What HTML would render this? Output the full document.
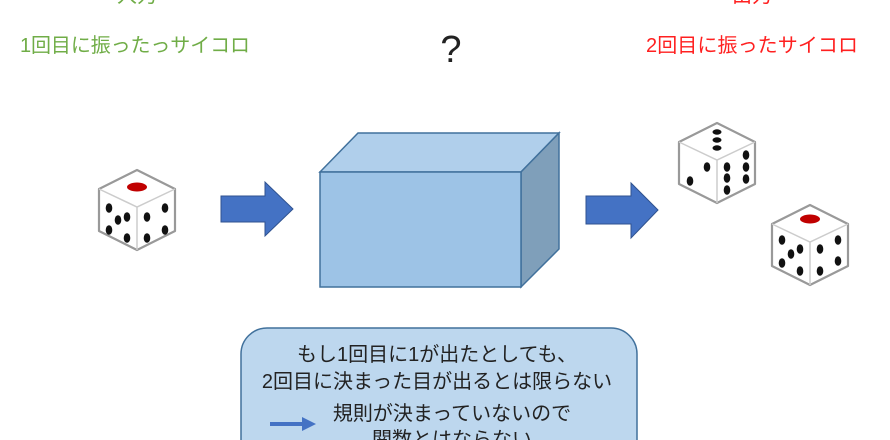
<!DOCTYPE html>
<html><head><meta charset="utf-8"><style>
html,body{margin:0;width:890px;height:440px;overflow:hidden;background:#fff;font-family:"Liberation Sans","Noto Sans CJK JP",sans-serif;}
svg{display:block}
</style></head><body>
<svg width="890" height="440" viewBox="0 0 890 440" xmlns="http://www.w3.org/2000/svg">
<defs>
<clipPath id="c"><rect x="0" y="0" width="890" height="440"/></clipPath>
<g id="die">
  <polygon points="0,-40 38,-21 38,21 0,40 -38,21 -38,-21" fill="#fff" stroke="#999" stroke-width="2.2" stroke-linejoin="round"/>
  <polyline points="-38,-21 0,-3 38,-21" fill="none" stroke="#ccc" stroke-width="1.5"/>
  <line x1="0" y1="-3" x2="0" y2="40" stroke="#ccc" stroke-width="1.5"/>
</g>
</defs>
<g clip-path="url(#c)">
<g font-size="20">
<text x="137" y="2" text-anchor="middle" fill="#70ad47">入力</text>
<text x="20" y="52" fill="#70ad47" textLength="230">1回目に振ったっサイコロ</text>
<text x="752" y="2" text-anchor="middle" fill="#ff2020">出力</text>
<text x="646" y="52" fill="#ff2020" textLength="212">2回目に振ったサイコロ</text>
</g>
<text x="451" y="62" text-anchor="middle" font-size="38" fill="#222">?</text>

<polygon points="320,172 358,133 559,133 521,172" fill="#b0cfeb" stroke="#41719c" stroke-width="1.5"/>
<polygon points="521,172 559,133 559,249 521,287" fill="#7f9fba" stroke="#41719c" stroke-width="1.5"/>
<rect x="320" y="172" width="201" height="115" fill="#9dc3e6" stroke="#41719c" stroke-width="1.5"/>

<polygon points="221,196 265,196 265,182 293,209 265,236 265,222 221,222" fill="#4472c4" stroke="#2f528f" stroke-width="1"/>
<polygon points="586,196 631,196 631,183 658,210 631,238 631,224 586,224" fill="#4472c4" stroke="#2f528f" stroke-width="1"/>

<g transform="translate(137,210)">
<use href="#die"/>
<ellipse cx="0" cy="-23" rx="10" ry="4.5" fill="#c00000"/>
<g fill="#111">
<ellipse cx="-28" cy="-2" rx="3.3" ry="4.8"/><ellipse cx="-10" cy="7" rx="3.3" ry="4.8"/>
<ellipse cx="-19" cy="10" rx="3.3" ry="4.8"/>
<ellipse cx="-28" cy="20" rx="3.3" ry="4.8"/><ellipse cx="-10" cy="28" rx="3.3" ry="4.8"/>
<ellipse cx="10" cy="7" rx="3.3" ry="4.8"/><ellipse cx="28" cy="-2" rx="3.3" ry="4.8"/>
<ellipse cx="10" cy="28" rx="3.3" ry="4.8"/><ellipse cx="28" cy="20" rx="3.3" ry="4.8"/>
</g></g>

<g transform="translate(717,163)">
<use href="#die"/>
<g fill="#111">
<ellipse cx="0" cy="-31" rx="4.5" ry="2.7"/><ellipse cx="0" cy="-23" rx="4.5" ry="2.7"/><ellipse cx="0" cy="-15" rx="4.5" ry="2.7"/>
<ellipse cx="-10" cy="4" rx="3.3" ry="4.8"/><ellipse cx="-27" cy="18" rx="3.3" ry="4.8"/>
<ellipse cx="10" cy="4" rx="3.3" ry="4.8"/><ellipse cx="10" cy="15" rx="3.3" ry="4.8"/><ellipse cx="10" cy="27" rx="3.3" ry="4.8"/>
<ellipse cx="29" cy="-8" rx="3.3" ry="4.8"/><ellipse cx="29" cy="4" rx="3.3" ry="4.8"/><ellipse cx="29" cy="16" rx="3.3" ry="4.8"/>
</g></g>

<g transform="translate(810,245)">
<use href="#die"/>
<ellipse cx="0" cy="-26" rx="10" ry="4.5" fill="#c00000"/>
<g fill="#111">
<ellipse cx="-28" cy="-5" rx="3.3" ry="4.8"/><ellipse cx="-10" cy="4" rx="3.3" ry="4.8"/>
<ellipse cx="-19" cy="9" rx="3.3" ry="4.8"/>
<ellipse cx="-28" cy="18" rx="3.3" ry="4.8"/><ellipse cx="-10" cy="26" rx="3.3" ry="4.8"/>
<ellipse cx="10" cy="4" rx="3.3" ry="4.8"/><ellipse cx="28" cy="-5" rx="3.3" ry="4.8"/>
<ellipse cx="10" cy="26" rx="3.3" ry="4.8"/><ellipse cx="28" cy="16" rx="3.3" ry="4.8"/>
</g></g>

<rect x="241" y="328" width="396" height="150" rx="26" fill="#bdd7ee" stroke="#41719c" stroke-width="1.5"/>
<g font-size="20" fill="#222" text-anchor="middle">
<text x="437" y="361">もし1回目に1が出たとしても、</text>
<text x="437" y="388">2回目に決まった目が出るとは限らない</text>
<text x="452" y="420">規則が決まっていないので</text>
<text x="452" y="446">関数とはならない</text>
</g>
<polygon points="270,422 302,422 302,417 316,424 302,431 302,426 270,426" fill="#4472c4"/>
</g>
</svg>
</body></html>
